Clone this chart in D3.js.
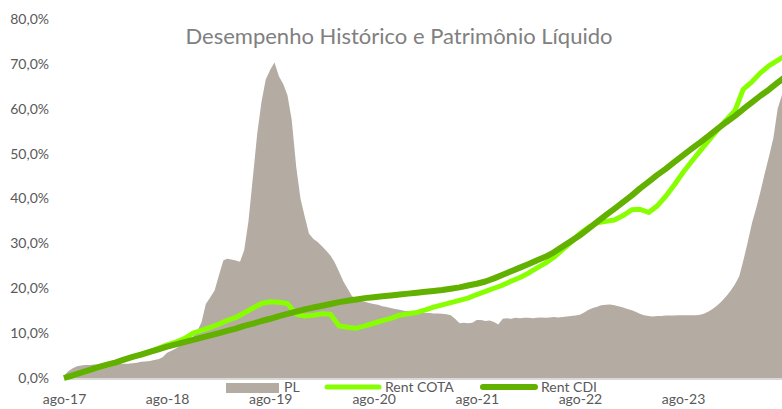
<!DOCTYPE html>
<html>
<head>
<meta charset="utf-8">
<script src="https://cdn.jsdelivr.net/npm/d3@7"></script>
<style>
  body { margin: 0; background: #fff; }
  svg { display: block; font-family: Lato, 'Open Sans', sans-serif; }
</style>
</head>
<body>
<div id="chart"></div>
<script>
const title = 'Desempenho Histórico e Patrimônio Líquido'
const start = new Date(2017, 7, 1)
const xTicks = ['ago-17', 'ago-18', 'ago-19', 'ago-20', 'ago-21', 'ago-22', 'ago-23']
const yTicks = [0, 10, 20, 30, 40, 50, 60, 70, 80]
const seriesNames = ['PL', 'Rent COTA', 'Rent CDI']

// monthly, ago-17 .. ago-24 (% acumulado)
const rentCota = [
    0, 0.5, 1.1, 1.7, 2.3, 2.9, 3.5, 4.1, 4.7, 5.3, 5.9, 6.6,
    7.4, 8.0, 8.8, 10.0, 10.6, 11.3, 12.0, 12.8, 13.5, 14.5, 15.6, 16.6,
    17.0, 16.9, 16.6, 14.2, 13.8, 14.0, 14.3, 14.2, 11.6, 11.3, 11.1, 11.6,
    12.2, 12.8, 13.3, 14.0, 14.3, 14.6, 15.2, 15.8, 16.3, 16.8, 17.3, 17.8,
    18.6, 19.3, 20.0, 20.7, 21.6, 22.4, 23.4, 24.5, 25.6, 26.9, 28.6, 30.3,
    32.2, 33.6, 34.6, 34.9, 35.2, 36.2, 37.5, 37.6, 36.9, 38.3, 40.5, 43.0,
    45.8, 48.3, 50.6, 53.0, 55.3, 57.5, 59.6, 64.3, 66.0, 68.0, 69.6, 70.8,
    72.0
]
const rentCdi = [
    0, 0.6, 1.2, 1.8, 2.4, 3.0, 3.5, 4.1, 4.7, 5.2, 5.8, 6.4,
    7.0, 7.5, 8.0, 8.5, 9.0, 9.5, 10.0, 10.5, 11.0, 11.6, 12.1, 12.7,
    13.2, 13.8, 14.3, 14.8, 15.3, 15.7, 16.1, 16.5, 16.9, 17.2, 17.5, 17.8,
    18.0, 18.2, 18.4, 18.6, 18.8, 19.0, 19.2, 19.4, 19.6, 19.9, 20.2, 20.6,
    21.0, 21.5, 22.2, 23.0, 23.8, 24.6, 25.4, 26.2, 27.0, 28.0, 29.3, 30.5,
    31.8, 33.3, 34.8, 36.3, 37.7, 39.2, 40.7, 42.2, 43.7, 45.2, 46.6, 48.1,
    49.6, 51.1, 52.5, 54.0, 55.5, 57.0, 58.4, 59.9, 61.4, 62.9, 64.3, 65.8,
    67.3
]
// PL, twice a month (dia 1 e 16), same units as the left axis
const pl = [
    0.5, 1.5, 2.2, 2.6, 2.8, 2.9, 2.9, 3.0, 3.0, 3.0, 3.1, 3.0,
    3.1, 3.1, 3.2, 3.2, 3.3, 3.4, 3.6, 3.7, 3.8, 4.0, 4.2, 4.6,
    5.6, 6.1, 6.6, 7.2, 7.8, 8.5, 9.2, 10.5, 12.5, 16.5, 18.0, 19.5,
    23.0, 26.2, 26.6, 26.4, 26.2, 25.9, 28.5, 35.0, 45.0, 54.5, 61.5, 66.5,
    68.7, 70.3, 67.2, 65.5, 63.0, 57.5, 47.0, 40.0, 36.0, 32.2, 31.0, 30.3,
    29.3, 28.3, 27.3, 25.8, 23.6, 21.5, 19.9, 18.3, 17.6, 17.2, 17.0, 16.7,
    16.5, 16.3, 16.0, 15.8, 15.6, 15.4, 15.2, 15.0, 14.9, 14.8, 14.7, 14.6,
    14.5, 14.5, 14.4, 14.4, 14.3, 14.2, 14.0, 13.2, 12.2, 12.3, 12.2, 12.3,
    12.9, 12.9, 12.7, 12.8, 12.5, 11.9, 13.2, 13.3, 13.2, 13.4, 13.3, 13.4,
    13.4, 13.3, 13.4, 13.5, 13.4, 13.5, 13.6, 13.5, 13.6, 13.7, 13.8, 13.9,
    14.1, 14.6, 15.2, 15.6, 15.9, 16.2, 16.3, 16.4, 16.2, 16.0, 15.7, 15.4,
    15.1, 14.7, 14.3, 14.0, 13.8, 13.7, 13.8, 13.8, 13.9, 13.9, 13.9, 14.0,
    14.0, 14.0, 14.0, 14.0, 14.1, 14.4, 14.9, 15.5, 16.2, 17.1, 18.2, 19.4,
    20.9, 22.7, 26.0, 30.0, 34.5, 37.8, 41.5, 45.5, 49.5, 53.5, 60.0, 63.0,
    66.0
]

class Chart {
    constructor (selector) {
        this.settings = {
            width: 782,
            height: 409,
            left: 64,
            tickEnd: 683,
            top: 19,
            bottom: 378,
            colors: { pl: '#b4aba3', cota: '#88ff00', cdi: '#62b000' }
        }
        this.attach(selector)
    }

    attach (selector) {
        this.svg = d3.select(selector)
            .append('svg')
            .attr('width', this.settings.width)
            .attr('height', this.settings.height)
    }

    scale () {
        const s = this.settings
        this.xScale = d3.scaleTime()
            .domain([start, d3.timeYear.offset(start, xTicks.length - 1)])
            .range([s.left, s.tickEnd])
        this.yScale = d3.scaleLinear()
            .domain([0, 80])
            .range([s.bottom, s.top])
    }

    graph () {
        const s = this.settings
        this.scale()
        const month = i => d3.timeMonth.offset(start, i)
        const half = k => d3.timeDay.offset(month(Math.floor(k / 2)), k % 2 ? 15 : 0)

        const area = d3.area()
            .x((d, k) => this.xScale(half(k)))
            .y0(this.yScale(0))
            .y1(d => this.yScale(d))
        this.svg.append('path')
            .attr('d', area(pl))
            .attr('fill', s.colors.pl)

        this.svg.append('line')
            .attr('x1', this.xScale(start)).attr('x2', s.width)
            .attr('y1', this.yScale(0) + 1).attr('y2', this.yScale(0) + 1)
            .attr('stroke', '#d9d9d9').attr('stroke-width', 2)

        const line = d3.line()
            .x((d, i) => this.xScale(month(i)))
            .y(d => this.yScale(d))
        this.svg.append('path')
            .attr('d', line(rentCota))
            .attr('fill', 'none')
            .attr('stroke', s.colors.cota)
            .attr('stroke-width', 5)
            .attr('stroke-linejoin', 'round')
        this.svg.append('path')
            .attr('d', line(rentCdi))
            .attr('fill', 'none')
            .attr('stroke', s.colors.cdi)
            .attr('stroke-width', 6)
            .attr('stroke-linejoin', 'round')

        const yAxis = d3.axisLeft(this.yScale)
            .tickValues(yTicks)
            .tickSize(0)
            .tickPadding(0)
            .tickFormat(d => d3.format('.1f')(d).replace('.', ',') + '%')
        this.svg.append('g')
            .attr('transform', 'translate(49,0)')
            .call(yAxis)
            .call(g => g.select('.domain').remove())
            .selectAll('text')
            .attr('fill', '#595959')
            .style('font-size', '14px')
            .style('font-family', 'Lato, sans-serif')

        const xAxis = d3.axisBottom(this.xScale)
            .tickValues(xTicks.map((_, i) => d3.timeYear.offset(start, i)))
            .tickSize(0)
            .tickPadding(16)
            .tickFormat((d, i) => xTicks[i])
        this.svg.append('g')
            .attr('transform', `translate(0,${s.bottom})`)
            .call(xAxis)
            .call(g => g.select('.domain').remove())
            .selectAll('text')
            .attr('fill', '#595959')
            .style('font-size', '14px')
            .style('font-family', 'Lato, sans-serif')

        this.svg.append('text')
            .attr('x', 399)
            .attr('y', 44)
            .attr('text-anchor', 'middle')
            .attr('fill', '#808080')
            .style('font-size', '22px')
            .text(title)

        // legend
        const legendX = [226, 325, 481]
        const legend = this.svg.append('g')
        seriesNames.forEach((name, i) => {
            const g = legend.append('g').attr('transform', `translate(${legendX[i]},387)`)
            if (i === 0) {
                g.append('rect').attr('x', 0).attr('y', -4).attr('width', 53).attr('height', 10)
                    .attr('fill', s.colors.pl)
            } else {
                g.append('line').attr('x1', 2).attr('x2', 54)
                    .attr('stroke', i === 1 ? s.colors.cota : s.colors.cdi)
                    .attr('stroke-width', i === 1 ? 5 : 6)
                    .attr('stroke-linecap', 'round')
            }
            g.append('text')
                .attr('x', i === 0 ? 58 : 60)
                .attr('y', 5)
                .attr('fill', '#595959')
                .style('font-size', '14px')
                .text(name)
        })
    }
}

new Chart('#chart').graph()
</script>
</body>
</html>
